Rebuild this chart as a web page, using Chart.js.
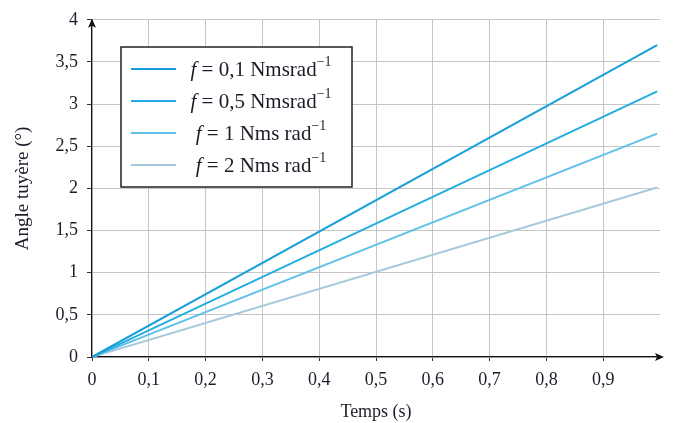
<!DOCTYPE html>
<html><head><meta charset="utf-8">
<script src="https://cdn.jsdelivr.net/npm/chart.js@4"></script>
<style>html,body{margin:0;padding:0;background:#fff}#wrap{width:673px;height:423px}</style>
</head><body><div id="wrap"><canvas id="c" width="673" height="423"></canvas></div>
<script>
const time = [0, 0.995];
const f01 = [0, 3.70];
const f05 = [0, 3.15];
const f1 = [0, 2.65];
const f2 = [0, 2.01];
const seriesLabels = [
  {pre: '0,1', unit: 'Nmsrad'},
  {pre: '0,5', unit: 'Nmsrad'},
  {pre: '1', unit: 'Nms rad'},
  {pre: '2', unit: 'Nms rad'}
];
const colors = ['#17a0d8', '#22ade2', '#5fc0e8', '#a6c9dc'];
const xTicks = [0, 0.1, 0.2, 0.3, 0.4, 0.5, 0.6, 0.7, 0.8, 0.9];
const yTicks = [0, 0.5, 1, 1.5, 2, 2.5, 3, 3.5, 4];

const FONT = '"Liberation Serif", "DejaVu Serif", serif';
const TXT = '#1c1c2a';
const toPts = ys => time.map((t, i) => ({x: t, y: ys[i]}));
const fmt = v => String(Math.round(v * 10) / 10).replace('.', ',');

const legendPlugin = {
  id: 'boxLegend',
  afterDraw(chart) {
    const ctx = chart.ctx;
    ctx.save();
    const bx = 121, by = 47, bw = 231, bh = 140;
    ctx.fillStyle = '#fff';
    ctx.fillRect(bx, by, bw, bh);
    ctx.strokeStyle = '#222';
    ctx.lineWidth = 1.5;
    ctx.strokeRect(bx, by, bw, bh);
    const rows = [69, 101, 133, 165];
    chart.data.datasets.forEach((ds, i) => {
      const y = rows[i];
      ctx.strokeStyle = ds.borderColor;
      ctx.lineWidth = 2;
      ctx.beginPath(); ctx.moveTo(131, y); ctx.lineTo(176, y); ctx.stroke();
      const lab = seriesLabels[i];
      const fi = 'italic 21px ' + FONT, fn = '21px ' + FONT, fs = '14px ' + FONT;
      const parts = [
        {t: 'f', f: fi, dy: 0},
        {t: ' = ' + lab.pre + ' ' + lab.unit, f: fn, dy: 0},
        {t: '\u22121', f: fs, dy: -8}
      ];
      let w = 0;
      parts.forEach(p => { ctx.font = p.f; p.w = ctx.measureText(p.t).width; w += p.w; });
      let x = 261 - w / 2;
      ctx.fillStyle = TXT;
      ctx.textBaseline = 'middle';
      ctx.textAlign = 'left';
      parts.forEach(p => { ctx.font = p.f; ctx.fillText(p.t, x, y + 1 + p.dy); x += p.w; });
    });
    // arrows
    const a = chart.chartArea;
    ctx.fillStyle = '#111';
    ctx.beginPath();
    ctx.moveTo(a.right + 4, a.bottom);
    ctx.lineTo(a.right - 5, a.bottom - 4);
    ctx.lineTo(a.right - 3, a.bottom);
    ctx.lineTo(a.right - 5, a.bottom + 4);
    ctx.closePath(); ctx.fill();
    ctx.strokeStyle = '#111'; ctx.lineWidth = 1;
    ctx.beginPath(); ctx.moveTo(a.right, a.bottom); ctx.lineTo(a.right + 2, a.bottom); ctx.stroke();
    ctx.beginPath();
    ctx.moveTo(a.left, a.top - 1);
    ctx.lineTo(a.left - 4, a.top + 8);
    ctx.lineTo(a.left, a.top + 6);
    ctx.lineTo(a.left + 4, a.top + 8);
    ctx.closePath(); ctx.fill();
    ctx.restore();
  }
};

new Chart(document.getElementById('c'), {
  type: 'line',
  data: {
    datasets: [f01, f05, f1, f2].map((ys, i) => ({
      label: 'f = ' + seriesLabels[i].pre + ' ' + seriesLabels[i].unit + '\u207B\u00B9',
      data: toPts(ys),
      borderColor: colors[i],
      borderWidth: 2,
      pointRadius: 0,
      fill: false,
      tension: 0
    }))
  },
  options: {
    responsive: false,
    animation: false,
    layout: {padding: {top: 18, right: 13, left: 0, bottom: 0}},
    plugins: {legend: {display: false}, tooltip: {enabled: false}},
    scales: {
      x: {
        type: 'linear', min: 0, max: 1,
        afterFit(s) { s.height = 66; },
        afterBuildTicks(s) { s.ticks = xTicks.concat([1]).map(v => ({value: v})); },
        ticks: {
          font: {family: FONT, size: 18}, color: TXT, padding: 8, maxRotation: 0,
          callback: v => (v >= 1 ? '' : fmt(v))
        },
        grid: {
          color: ctx => (ctx.tick && ctx.tick.value >= 1 ? 'rgba(0,0,0,0)' : '#c6c6c6'),
          tickColor: ctx => (ctx.tick && ctx.tick.value >= 1 ? 'rgba(0,0,0,0)' : '#333'),
          tickLength: 4, lineWidth: 1
        },
        border: {color: '#111', width: 1.2},
        title: {display: true, text: 'Temps (s)', font: {family: FONT, size: 18}, color: TXT, padding: {top: 10, bottom: 0}}
      },
      y: {
        type: 'linear', min: 0, max: 4,
        afterFit(s) { s.width = 92; },
        afterBuildTicks(s) { s.ticks = yTicks.map(v => ({value: v})); },
        ticks: {font: {family: FONT, size: 18}, color: TXT, padding: 9, callback: v => fmt(v)},
        grid: {color: '#c6c6c6', tickColor: '#333', tickLength: 5, lineWidth: 1},
        border: {color: '#111', width: 1.2},
        title: {display: true, text: 'Angle tuyère (°)', font: {family: FONT, size: 19}, color: TXT, padding: {top: 12, bottom: 6}}
      }
    }
  },
  plugins: [legendPlugin]
});
</script></body></html>
